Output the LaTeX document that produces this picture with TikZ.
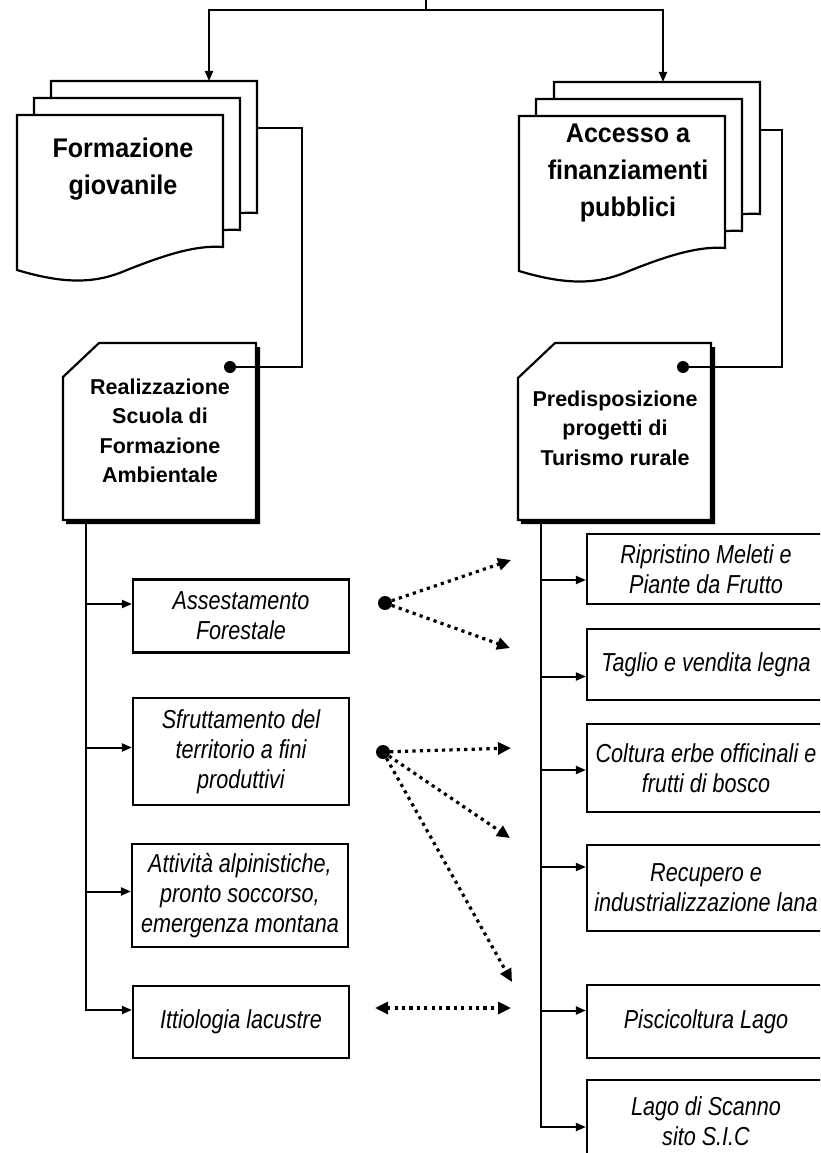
\documentclass[tikz,border=0pt]{standalone}
\usepackage{fontspec}
\setmainfont{Liberation Sans}
\newfontfamily\hdfont[FakeStretch=0.93]{Liberation Sans}
\newfontfamily\itfont[FakeStretch=0.83]{Liberation Sans}
\usetikzlibrary{arrows.meta,calc}
\begin{document}
\begin{tikzpicture}[x=1pt,y=-1pt,
  line/.style={line width=2pt},
  arr/.style={line width=2pt,-{Triangle[length=10pt,width=8pt]}},
  dots/.style={line width=3.2pt,dash pattern=on 3.2pt off 4.2pt,-{Triangle[length=13pt,width=12pt]}},
  dbl/.style={line width=3.2pt,dash pattern=on 3.2pt off 4.2pt,{Triangle[length=13pt,width=12pt]}-{Triangle[length=13pt,width=12pt]}},
  docstyle/.style={draw,line width=2.2pt,fill=white},
  hd/.style={align=center,inner sep=0,font=\hdfont\bfseries\fontsize{27}{37}\selectfont},
  proctext/.style={align=center,inner sep=0,font=\bfseries\fontsize{21.5}{29.5}\selectfont},
  procshape/.style={draw,line width=2.2pt,fill=white},
  box/.style={draw,line width=2.2pt,fill=white,inner sep=0,align=center,font=\itfont\itshape\fontsize{26}{30}\selectfont},
  dotn/.style={circle,fill=black,inner sep=0,minimum size=12pt},
  src/.style={circle,fill=black,inner sep=0,minimum size=14pt},
  ghost/.style={inner sep=0,minimum width=206pt,minimum height=132pt,anchor=north west}
]
\path[use as bounding box] (0,0) rectangle (820,1153);
\clip (0,0) rectangle (820,1153);
\fill[white] (0,0) rectangle (820,1153);

% document shape macro
\newcommand\mydoc[2]{%
  \draw[docstyle] (#1,#2) -- ++(206,0) -- ++(0,132)
    .. controls +(-26,-2) and +(40,-16) .. ++(-96,23)
    .. controls +(-30,13) and +(50,15) .. ++(-110,0) -- cycle;}

% left document stack
\mydoc{51}{81}
\mydoc{34}{98}
\mydoc{17}{115}
\node[ghost] (formB) at (51,81) {};
\node[hd] (formT) at (123,169) {Formazione\\giovanile};

% right document stack
\mydoc{554}{82}
\mydoc{536}{99}
\mydoc{519}{116}
\node[ghost] (accB) at (554,82) {};
\node[hd] (accT) at (628,173) {Accesso a\\finanziamenti\\pubblici};

% top connector
\coordinate (top) at (426,0);
\coordinate (topbar) at (426,10);
\draw[arr] (top) -- (topbar) -| ([xshift=158pt]formB.north west);
\draw[arr] (topbar) -| ([xshift=109pt]accB.north west);

% process boxes
\fill[black] (66,381) -- (102,347) -- (260,347) -- (260,524) -- (66,524) -- cycle;
\draw[procshape] (63,377) -- (99,343) -- (256,343) -- (256,520) -- (63,520) -- cycle;
\node[proctext] (procL) at (160,431) {Realizzazione\\Scuola di\\Formazione\\Ambientale};
\fill[black] (521,382) -- (558,347) -- (715,347) -- (715,524) -- (521,524) -- cycle;
\draw[procshape] (518,378) -- (555,343) -- (711,343) -- (711,520) -- (518,520) -- cycle;
\node[proctext] (procR) at (615,428) {Predisposizione\\progetti di\\Turismo rurale};

\node[dotn] (dotL) at (230,367) {};
\node[dotn] (dotR) at (683,367) {};
\coordinate (elbL) at (302,367);
\coordinate (elbR) at (782,367);
\draw[line] ([yshift=-47pt]formB.north east) -| (elbL) -- (dotL);
\draw[line] ([yshift=-48pt]accB.north east) -| (elbR) -- (dotR);

% left boxes
\node[box,minimum width=216pt,minimum height=73pt] (asse) at (241,616) {Assestamento\\Forestale};
\node[box,minimum width=216pt,minimum height=107pt] (sfru) at (241,751.5) {Sfruttamento del\\territorio a fini\\produttivi};
\node[box,minimum width=216pt,minimum height=103pt] (atti) at (240,895.5) {Attività alpinistiche,\\pronto soccorso,\\emergenza montana};
\node[box,minimum width=216pt,minimum height=72pt] (itt) at (241,1022) {Ittiologia lacustre};

% right boxes
\node[box,minimum width=238pt,minimum height=70pt] (ripr) at (706,569) {Ripristino Meleti e\\Piante da Frutto};
\node[box,minimum width=238pt,minimum height=71pt] (tagl) at (706,664.5) {Taglio e vendita legna};
\node[box,minimum width=238pt,minimum height=88pt] (colt) at (706,768) {Coltura erbe officinali e\\frutti di bosco};
\node[box,minimum width=238pt,minimum height=86pt] (recu) at (706,888) {Recupero e\\industrializzazione lana};
\node[box,minimum width=238pt,minimum height=73pt] (pisc) at (706,1021.5) {Piscicoltura Lago};
\node[box,minimum width=238pt,minimum height=82pt] (lago) at (706,1121) {Lago di Scanno\\sito S.I.C};

% trunks
\coordinate (trL) at ([xshift=-74pt]procL.south |- 0,520);
\coordinate (trR) at (541,520);
\draw[arr] (trL) |- ($(itt.west)+(0,-12)$);
\foreach \n/\d in {asse/-12,sfru/-4,atti/-4}
  \draw[arr] (trL |- {$(\n.west)+(0,\d)$}) -- ($(\n.west)+(0,\d)$);
\draw[arr] (trR) |- ($(lago.west)+(0,6)$);
\foreach \n/\d in {ripr/11,tagl/12,colt/2,recu/-21,pisc/-11}
  \draw[arr] (trR |- {$(\n.west)+(0,\d)$}) -- ($(\n.west)+(0,\d)$);

% dotted links
\node[src] (sA) at (385,603) {};
\node[src] (sB) at (383,752) {};
\coordinate (tA1) at (511,560);
\coordinate (tA2) at (510,648);
\coordinate (tB1) at (511,748);
\coordinate (tB2) at (510,838);
\coordinate (tB3) at (512,982);
\coordinate (dL) at (375,1008);
\coordinate (dR) at (511,1008);
\draw[dots] (sA) -- (tA1);
\draw[dots] (sA) -- (tA2);
\draw[dots] (sB) -- (tB1);
\draw[dots] (sB) -- (tB2);
\draw[dots] (sB) -- (tB3);
\draw[dbl] (dL) -- (dR);
\end{tikzpicture}
\end{document}
